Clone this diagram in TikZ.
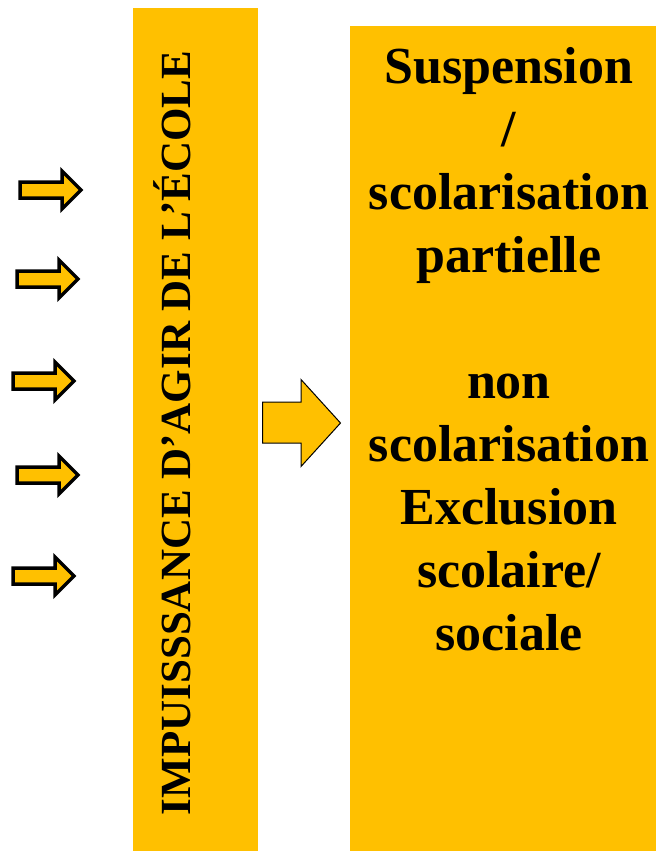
\documentclass[tikz,border=0pt]{standalone}
\usepackage{fontspec}
\setmainfont{Liberation Serif}
\usepackage{xcolor}
\definecolor{gold}{RGB}{255,192,0}

\begin{document}
\begin{tikzpicture}[x=1pt, y=-1pt,
	panel/.style={fill=gold},
	smallarrow/.style={fill=gold, draw=black, line width=3.5pt, line join=miter},
	bigarrow/.style={fill=gold, draw=black, line width=1pt, line join=miter}]
	\useasboundingbox (0,0) rectangle (661,851);
	\fill[panel] (133,8) rectangle (258,851);
	\fill[panel] (350,26) rectangle (656,851);
	
	\foreach \x/\y in {18/190, 15/279, 11/381, 15/475, 11/576}
	{
		\draw[smallarrow] (\x+2,\y-8) -- ++(42,0) -- ++(0,-11) -- ++(19,19) -- ++(-19,19) -- ++(0,-11) -- ++(-42,0) -- cycle;
	}
	
	\draw[bigarrow] (262.5,402) -- (301,402) -- (301,379.5) -- (340.5,423) -- (301,466.5) -- (301,443) -- (262.5,443) -- cycle;
	
	\node[rotate=90, anchor=base, font=\fontsize{43}{50}\selectfont\bfseries] (obstacle) at (190,433) {IMPUISSSANCE D’AGIR DE L’ÉCOLE};
	
	\node[anchor=base, align=center, inner sep=0pt, font=\fontsize{52}{63}\selectfont\bfseries] (outcome) at (509,650)
		{Suspension\\/\\scolarisation\\partielle\\[63pt]non\\scolarisation\\Exclusion\\scolaire/\\sociale};
\end{tikzpicture}
\end{document}
